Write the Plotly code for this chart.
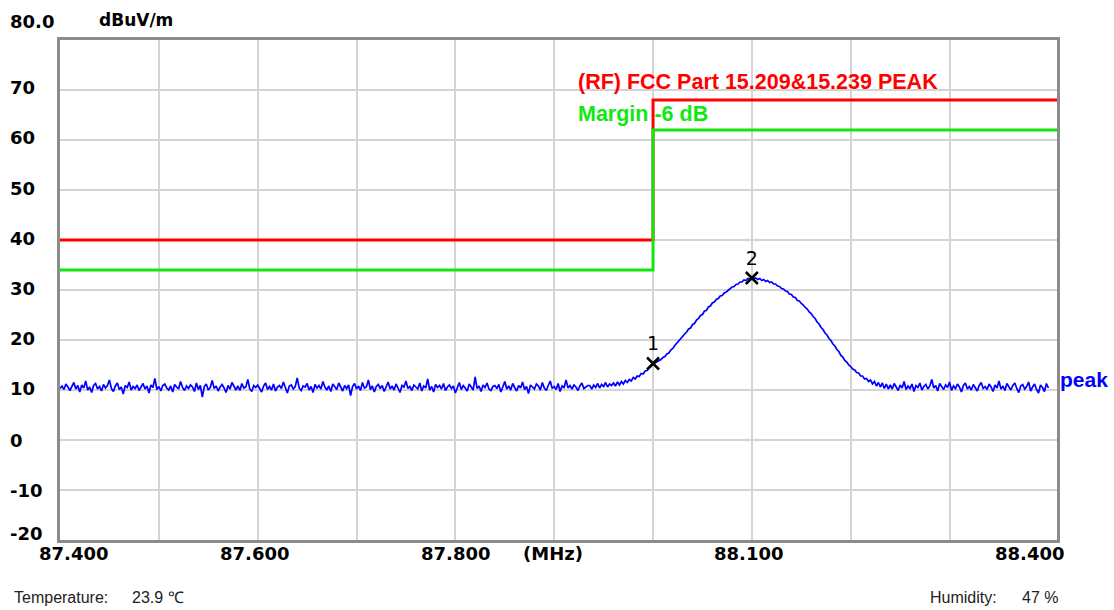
import plotly.graph_objects as go

# ---------------- data ----------------
# sweep grid: 2 kHz steps, each segment gives its start frequency (MHz)
STEP = 0.002
floor_left_start = 87.400
floor_left = [
    10.3, 10.8, 10.1, 11.2, 10.6, 9.9, 10.7, 11.5, 10.2, 10.9, 9.6, 11.0, 10.4, 11.8, 10.0, 10.6, 9.5, 10.9, 11.3, 10.2,
    10.7, 9.8, 11.1, 10.4, 10.9, 12.0, 10.3, 9.7, 10.8, 11.4, 10.1, 10.6, 9.2, 10.9, 10.5, 11.6, 10.0, 10.7, 10.3, 11.0,
    9.9, 10.6, 11.3, 10.2, 10.8, 9.4, 11.0, 10.5, 12.3, 10.1, 10.7, 9.8, 10.9, 11.2, 10.4, 10.0, 10.8, 9.6, 11.1, 10.6,
    10.2, 11.7, 10.5, 9.9, 10.8, 10.3, 11.0, 10.6, 9.7, 11.4, 10.1, 10.9, 8.6, 10.7, 11.2, 10.0, 10.5, 11.9, 10.3, 10.8,
    9.8, 10.6, 11.1, 10.4, 9.5, 10.9, 10.2, 11.5, 10.7, 10.0, 10.8, 9.9, 11.3, 10.4, 10.6, 12.1, 10.2, 9.7, 10.9, 10.5,
    11.0, 10.3, 9.6, 10.8, 11.4, 10.1, 10.7, 10.0, 11.2, 9.8, 10.6, 10.9, 10.3, 11.6, 10.5, 9.4, 10.8, 11.0, 10.2, 10.7,
    12.4, 10.4, 9.9, 10.8, 10.6, 11.3, 10.0, 10.7, 9.5, 11.1, 10.4, 10.9, 10.2, 11.7, 10.6, 10.0, 10.8, 9.7, 11.2, 10.5,
    10.1, 11.4, 10.6, 9.8, 10.9, 10.3, 11.0, 8.9, 10.7, 11.3, 10.2, 10.8, 9.9, 11.5, 10.4, 10.6, 12.0, 10.1, 10.8, 9.6,
    10.7, 11.1, 10.3, 10.9, 9.7, 10.5, 11.6, 10.2, 10.8, 10.0, 11.2, 10.4, 9.5, 10.9, 10.6, 11.8, 10.3, 10.7, 9.9, 11.0,
    10.5, 10.2, 11.4, 9.8, 10.8, 10.4, 12.2, 10.0, 10.7, 9.6, 11.1, 10.5, 10.9, 10.2, 11.3, 9.9, 10.6, 11.0, 10.3, 10.8,
    9.4, 10.7, 11.5, 10.1, 10.9, 10.4, 9.8, 11.2, 10.6, 10.0, 12.6, 10.3, 10.8, 9.7, 11.0, 10.5, 11.4, 10.2, 9.9, 10.7,
    10.9, 10.3, 11.1, 9.6, 10.6, 11.7, 10.2, 10.8, 10.0, 11.3, 10.5, 9.8, 10.9, 10.4, 11.6, 10.1, 10.7, 9.3, 11.0, 10.6,
    10.2, 11.2, 10.8, 10.0, 11.5, 10.4, 9.9, 10.9, 11.8, 10.3, 10.7, 10.1, 11.3, 9.7, 10.8, 10.5, 12.0, 10.4, 10.9, 10.2,
    11.0, 10.6, 9.9, 10.8, 11.4, 10.3, 10.7, 10.9,
]
rise_start = 87.936
rise = [
    10.9, 10.2, 11.0, 10.5, 11.3, 10.4, 11.1, 10.7, 11.5, 10.6, 11.2, 10.9, 11.4, 10.8, 11.6, 11.0,
    11.7, 11.2, 11.9, 11.5, 12.1, 11.8, 12.5, 12.2, 12.8, 12.7, 13.3, 13.2, 13.8, 13.9, 14.4, 14.7,
]
hump_start = 88.000
hump = [
    15.2, 15.4, 15.6, 15.9, 16.1, 16.5, 16.7, 17.2, 17.4, 18.0, 18.3, 18.9, 19.4, 19.8, 20.4, 20.7, 21.2, 21.6, 22.2, 22.4,
    23.1, 23.3, 24.0, 24.3, 24.9, 25.1, 25.8, 25.9, 26.6, 26.8, 27.4, 27.6, 28.1, 28.3, 28.8, 28.9, 29.4, 29.6, 30.0, 30.2,
    30.6, 30.7, 31.1, 31.2, 31.6, 31.6, 32.0, 31.9, 32.3, 32.2, 32.4, 32.3, 32.4, 32.1, 32.3, 31.9, 32.1, 31.7, 31.9, 31.5,
    31.6, 31.2, 31.2, 30.8, 30.7, 30.3, 30.2, 29.8, 29.7, 29.2, 29.1, 28.6, 28.5, 27.9, 27.8, 27.3, 27.0, 26.5, 26.2, 25.6,
    25.3, 24.7, 24.3, 23.6, 23.2, 22.5, 22.1, 21.4, 21.0, 20.3, 19.9, 19.2, 18.8, 18.1, 17.7, 16.9, 16.6, 15.9, 15.6, 15.0,
    14.7, 14.2, 14.0, 13.5, 13.4, 12.8, 12.8, 12.2, 12.3, 11.7, 12.0, 11.2, 11.7, 10.8, 11.5, 10.6, 11.4, 10.3, 11.2, 10.2,
    11.0,
]
floor_right_start = 88.242
floor_right = [
    10.2, 11.3, 10.6, 9.9, 11.0, 10.4, 11.7, 10.1, 10.8, 10.3, 11.2, 9.7, 10.9, 10.5, 11.4, 10.0, 10.7, 11.1, 10.2, 10.8,
    12.1, 10.4, 10.9, 9.8, 11.3, 10.6, 10.1, 11.0, 10.5, 11.6, 9.9, 10.8, 10.3, 11.2, 10.6, 9.6, 10.9, 11.4, 10.2, 10.7,
    10.0, 11.1, 10.5, 9.8, 10.9, 11.5, 10.3, 10.7, 10.1, 11.2, 10.6, 9.7, 11.0, 10.4, 11.8, 10.2, 10.8, 9.9, 11.3, 10.5,
    10.0, 10.9, 11.4, 10.3, 9.5, 10.8, 11.1, 10.2, 10.7, 11.6, 9.8, 10.6, 11.2, 10.1, 9.4, 11.0, 10.5, 9.7, 11.3, 10.4,
]

# limit lines (FCC Part 15.209 & 15.239 peak) and margin line
limit_freq = [87.4, 88.0, 88.0, 88.4]
limit_level = [40, 40, 68, 68]
margin_level = [34, 34, 62, 62]

# markers
marker_freq = [88.000, 88.100]
marker_level = [15.3, 32.4]
marker_label = ["1", "2"]

y_tick_labels = ["80.0", "70", "60", "50", "40", "30", "20", "10", "0", "-10", "-20"]
x_tick_labels = ["87.400", "87.600", "87.800", "(MHz)", "88.100", "88.400"]

# ---------------- build ----------------
def seg(start, vals):
    return [round(start + STEP * k, 4) for k in range(len(vals))], vals

fx, fy = [], []
for s, v in [(floor_left_start, floor_left), (rise_start, rise), (hump_start, hump), (floor_right_start, floor_right)]:
    a, b = seg(s, v)
    fx += a
    fy += b

X_MIN, X_MAX = 87.4, 88.4087
Y_MIN, Y_MAX = -20, 80
lim_x = limit_freq[:-1] + [X_MAX]

W, H = 1114, 610
L, R, T, B = 60, 57, 40, 70
PW, PH = W - L - R, H - T - B


def xp(px):
    return (px - L) / PW


def yp(py):
    return (H - B - py) / PH


SANS = "Liberation Sans, Arial, sans-serif"
TICK = "DejaVu Sans, Verdana, sans-serif"
GREEN = "#10e810"

fig = go.Figure()
fig.add_trace(go.Scatter(x=lim_x, y=limit_level, mode="lines",
                         line=dict(color="#ff0000", width=3), hoverinfo="skip"))
fig.add_trace(go.Scatter(x=lim_x, y=margin_level, mode="lines",
                         line=dict(color=GREEN, width=3), hoverinfo="skip"))
fig.add_trace(go.Scatter(x=fx, y=fy, mode="lines",
                         line=dict(color="#0000ff", width=1.7)))
fig.add_trace(go.Scatter(x=marker_freq, y=marker_level, mode="markers+text",
                         text=marker_label, textposition="top center",
                         textfont=dict(family=TICK, size=19, color="#000000"),
                         marker=dict(symbol="x-thin-open", size=12, color="#000000",
                                     line=dict(color="#000000", width=2.5))))

ann = []
# y labels
y_pix = [22, 88, 138, 188, 238, 288, 338, 388, 440, 490, 533]
for t, py in zip(y_tick_labels, y_pix):
    ann.append(dict(text=t, x=xp(8), y=yp(py), xanchor="left", yanchor="middle"))
# x labels
x_pix = [73, 254, 455, 553, 748, 1029]
for t, px in zip(x_tick_labels, x_pix):
    ann.append(dict(text=t, x=xp(px), y=yp(553), xanchor="center", yanchor="middle"))
for a in ann:
    a.update(xref="paper", yref="paper", showarrow=False,
             font=dict(family=TICK, size=18, color="#000000", weight="bold"))

ann.append(dict(text="dBuV/m", x=xp(97), y=yp(20), xanchor="left", yanchor="middle",
                xref="paper", yref="paper", showarrow=False,
                font=dict(family=TICK, size=17, color="#000000", weight="bold")))
ann.append(dict(text="(RF) FCC Part 15.209&15.239 PEAK", x=xp(576), y=yp(82), xanchor="left",
                yanchor="middle", xref="paper", yref="paper", showarrow=False,
                font=dict(family=SANS, size=21.5, color="#ff0000", weight="bold")))
ann.append(dict(text="Margin -6 dB", x=xp(576), y=yp(114), xanchor="left",
                yanchor="middle", xref="paper", yref="paper", showarrow=False,
                font=dict(family=SANS, size=21.5, color=GREEN, weight="bold")))
ann.append(dict(text="peak", x=xp(1058), y=yp(380), xanchor="left",
                yanchor="middle", xref="paper", yref="paper", showarrow=False,
                font=dict(family=SANS, size=21, color="#0000ff", weight="bold")))
for t, px in [("Temperature:", 12), ("23.9 ℃", 130), ("Humidity:", 928), ("47 %", 1020)]:
    ann.append(dict(text=t, x=xp(px), y=yp(597), xanchor="left", yanchor="middle",
                    xref="paper", yref="paper", showarrow=False,
                    font=dict(family=SANS, size=16, color="#222222")))

fig.update_layout(
    width=W, height=H,
    margin=dict(l=L, r=R, t=T, b=B, pad=0),
    paper_bgcolor="#ffffff", plot_bgcolor="#ffffff",
    showlegend=False,
    annotations=ann,
    xaxis=dict(range=[X_MIN, X_MAX], tickvals=[87.5, 87.6, 87.7, 87.8, 87.9, 88.0, 88.1, 88.2, 88.3],
               showticklabels=False, ticks="", showgrid=True, gridcolor="#d4d4d4", gridwidth=2,
               zeroline=False, showline=True, linecolor="#8c8c8c", linewidth=3, mirror=True),
    yaxis=dict(range=[Y_MIN, Y_MAX], tickvals=[-10, 0, 10, 20, 30, 40, 50, 60, 70],
               showticklabels=False, ticks="", showgrid=True, gridcolor="#d4d4d4", gridwidth=2,
               zeroline=False, showline=True, linecolor="#8c8c8c", linewidth=3, mirror=True),
)

fig.write_html("out.html", config={"displayModeBar": False},
               post_script="document.body.style.margin='0';document.body.style.overflow='hidden';")
